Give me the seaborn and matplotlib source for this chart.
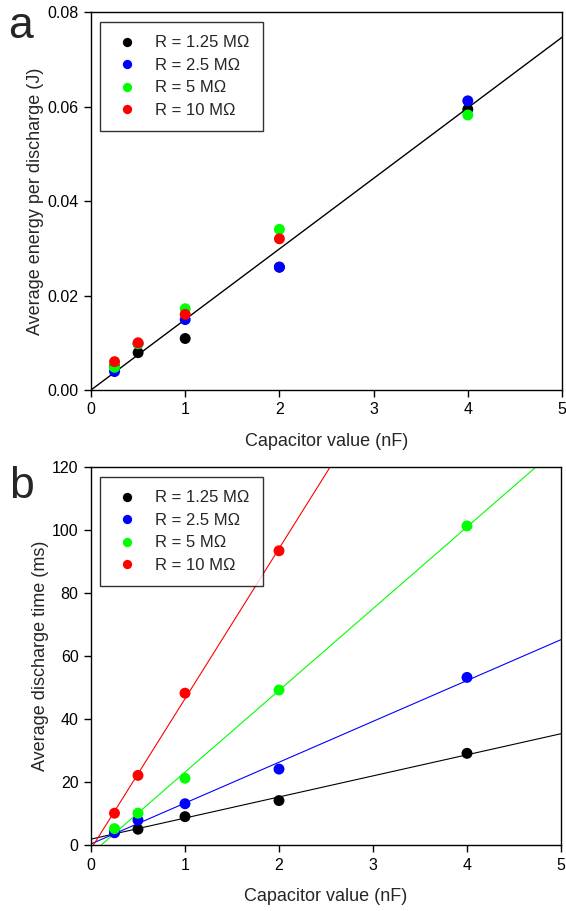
import numpy as np
import pandas as pd
import matplotlib
matplotlib.use("Agg")
import matplotlib.pyplot as plt
import seaborn as sns

# ─── Data ─────────────────────────────────────────────────────────────
SERIES = ["R = 1.25 MΩ", "R = 2.5 MΩ", "R = 5 MΩ", "R = 10 MΩ"]
COLORS = ["#000000", "#0000ff", "#00ff00", "#ff0000"]

CAP = [0.25, 0.5, 1, 2, 4]
CAP_10M = [0.25, 0.5, 1, 2]

# Panel a: average energy per discharge (J)
energy_125 = [0.0050, 0.0079, 0.0109, 0.0260, 0.0594]
energy_25 = [0.0039, 0.0098, 0.0149, 0.0260, 0.0612]
energy_5 = [0.0048, 0.0098, 0.0172, 0.0340, 0.0582]
energy_10 = [0.0060, 0.0100, 0.0160, 0.0320]

# Panel b: average discharge time (ms)
time_125 = [4.0, 5.0, 9.0, 14.1, 29.1]
time_25 = [3.9, 7.9, 13.1, 24.1, 53.2]
time_5 = [5.2, 10.1, 21.2, 49.2, 101.3]
time_10 = [10.1, 22.1, 48.2, 93.4]

X_TICKS = [0, 1, 2, 3, 4, 5]
E_TICKS = [0.00, 0.02, 0.04, 0.06, 0.08]
T_TICKS = [0, 20, 40, 60, 80, 100, 120]


def long_frame(values):
    rows = []
    for name, caps, vals in zip(SERIES, [CAP, CAP, CAP, CAP_10M], values):
        for c, v in zip(caps, vals):
            rows.append({"cap": c, "val": v, "series": name})
    return pd.DataFrame(rows)


df_e = long_frame([energy_125, energy_25, energy_5, energy_10])
df_t = long_frame([time_125, time_25, time_5, time_10])

sns.set_style("ticks")
plt.rcParams["font.family"] = ["Liberation Sans", "DejaVu Sans"]
plt.rcParams["axes.linewidth"] = 1.0

fig = plt.figure(figsize=(5.66, 9.11), dpi=100)
ax_a = fig.add_axes([91 / 566, 1 - 390 / 911, 471 / 566, 378 / 911])
ax_b = fig.add_axes([91 / 566, 1 - 845 / 911, 470 / 566, 378 / 911])

palette = dict(zip(SERIES, COLORS))


def style_axes(ax, yticks, ylabel, yfmt):
    ax.set_xlim(0, 5)
    ax.set_ylim(yticks[0], yticks[-1])
    ax.set_xticks(X_TICKS)
    ax.set_yticks(yticks)
    ax.set_yticklabels([yfmt.format(t) for t in yticks])
    ax.tick_params(direction="out", length=5, width=1, labelsize=11.5,
                   color="black", labelcolor="black", pad=4)
    for sp in ax.spines.values():
        sp.set_color("black")
        sp.set_linewidth(1.0)
    ax.set_xlabel("Capacitor value (nF)", fontsize=13, labelpad=11)
    ax.set_ylabel(ylabel, fontsize=13, labelpad=2)
    leg = ax.legend(loc="upper left", bbox_to_anchor=(0.019, 0.9735),
                    fontsize=12, frameon=True, fancybox=False,
                    handletextpad=0.9, labelspacing=0.45, borderpad=0.8,
                    handlelength=1.6, borderaxespad=0, markerscale=0.85)
    leg.get_frame().set_edgecolor("black")
    leg.get_frame().set_linewidth(1.0)


# ── Panel a: energy ──
ax_a.set_xlim(0, 5)
x_all = df_e["cap"].to_numpy()
y_all = df_e["val"].to_numpy()
slope = np.sum(x_all * y_all) / np.sum(x_all ** 2)  # fit through origin
xs = np.array(ax_a.get_xlim())
ax_a.plot(xs, slope * xs, color="black", linewidth=1.0, zorder=1)
sns.scatterplot(data=df_e, x="cap", y="val", hue="series", palette=palette,
                s=62, edgecolor="none", ax=ax_a, zorder=3)
style_axes(ax_a, E_TICKS, "Average energy per discharge (J)", "{:.2f}")

# ── Panel b: discharge time ──
ax_b.set_xlim(0, 5)
for name in SERIES:
    sub = df_t[df_t["series"] == name]
    sns.regplot(data=sub, x="cap", y="val", scatter=False, ci=None,
                truncate=False, color=palette[name],
                line_kws={"linewidth": 0.8}, ax=ax_b)
sns.scatterplot(data=df_t, x="cap", y="val", hue="series", palette=palette,
                s=62, edgecolor="none", ax=ax_b, zorder=3)
style_axes(ax_b, T_TICKS, "Average discharge time (ms)", "{:.0f}")

fig.text(20 / 566, 1 - 27 / 911, "a", fontsize=32, ha="center", va="center")
fig.text(21 / 566, 1 - 486 / 911, "b", fontsize=32, ha="center", va="center")

fig.savefig("out.png", dpi=100)
plt.close(fig)
